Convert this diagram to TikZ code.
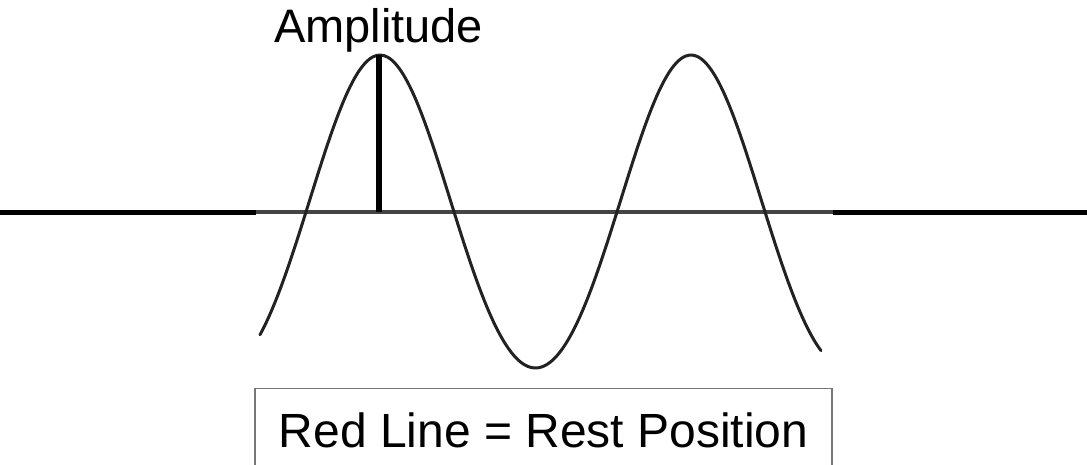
\documentclass[tikz,border=0pt]{standalone}
\usepackage{fontspec}
\setmainfont{Liberation Sans}
\definecolor{restgray}{HTML}{444444}
\definecolor{wavegray}{HTML}{222222}
\definecolor{framegray}{HTML}{777777}
\usetikzlibrary{positioning}

\begin{document}
\begin{tikzpicture}[x=1pt, y=-1pt,
						axis/.style={line width=5pt, black},
						rest/.style={line width=4pt, color=restgray},
						wave/.style={line width=3pt, color=wavegray, line cap=round, smooth, samples=150},
						amp/.style={line width=6pt, black},
						restbox/.style={draw=framegray, line width=1.3pt, minimum width=577pt, inner ysep=24pt, font=\fontsize{48}{52}\selectfont},
						amptext/.style={font=\fontsize{47}{50}\selectfont, inner sep=0pt}
					]
					\useasboundingbox (0,0) rectangle (1087,464);

					\coordinate (leftend) at (0,212);
					\coordinate (reststart) at (256,212);
					\coordinate (restend) at (833,212);
					\coordinate (rightend) at (1087,212);
					\coordinate (peak) at (379,55);
					\coordinate (base) at (379,212);

					\draw[axis] (leftend) -- (reststart);
					\draw[rest] (reststart) -- (restend);
					\draw[axis] (restend) -- (rightend);

					% wave, one peak at the amplitude marker
					\draw[wave, domain=260:821] plot (\x, {212-156.5*cos(1.157556*(\x-380))-6.15*cos(2.315112*(\x-380))+5.65});

					\draw[amp] (peak) -- (base);
					\node[amptext, anchor=base] (amplitude) at (378.5,42) {Amplitude};

					\node[restbox, anchor=north] (restpos) at (543.5,388) {Red Line = Rest Position};
				\end{tikzpicture}
\end{document}
